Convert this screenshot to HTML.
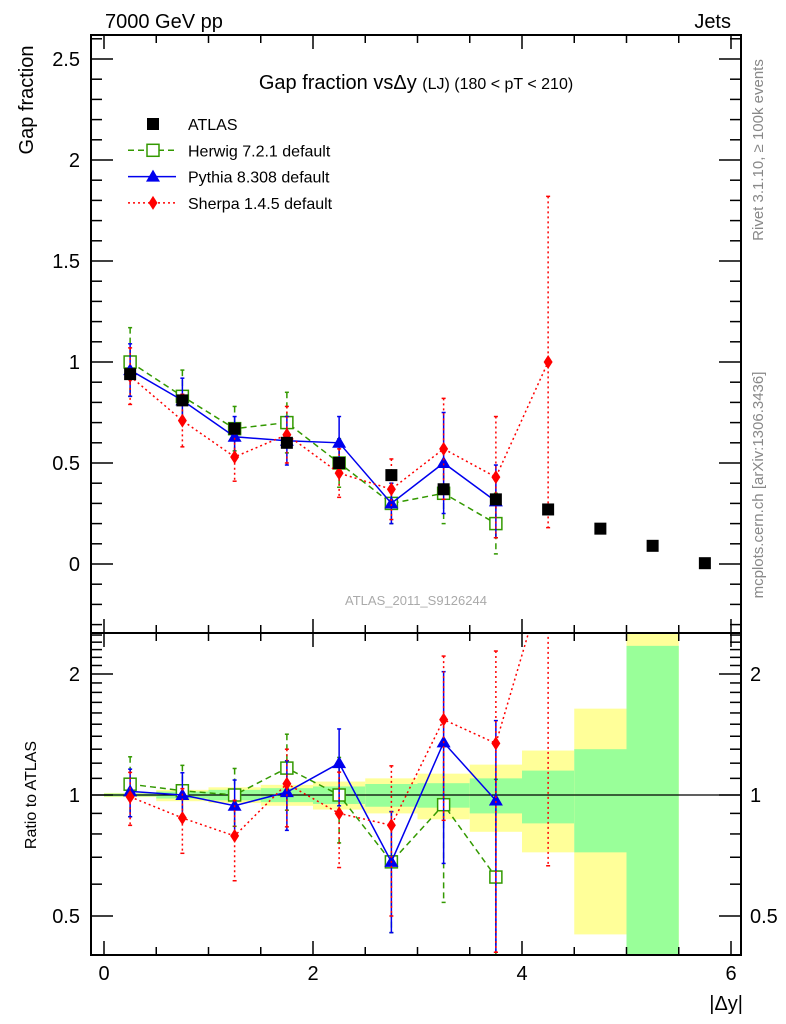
<!DOCTYPE html>
<html><head><meta charset="utf-8"><style>
html,body{margin:0;padding:0;background:#fff;width:786px;height:1024px;overflow:hidden;}
svg{display:block;font-family:"Liberation Sans",sans-serif;}
</style></head><body>
<svg id="c" width="786" height="1024" viewBox="0 0 786 1024" xmlns="http://www.w3.org/2000/svg">
<defs>
<clipPath id="clipMain"><rect x="91" y="35" width="650" height="598"/></clipPath>
<clipPath id="clipRatio"><rect x="91" y="633" width="650" height="322"/></clipPath>
</defs>
<g id="bands" clip-path="url(#clipRatio)"></g>
<g id="grid"></g>
<g id="series"></g>
<rect x="91" y="35" width="650" height="598" fill="none" stroke="#000" stroke-width="2"/>
<rect x="91" y="633" width="650" height="322" fill="none" stroke="#000" stroke-width="2"/>
<text x="105" y="28" font-size="20">7000 GeV pp</text>
<text x="731" y="28" font-size="20" text-anchor="end">Jets</text>
<text transform="translate(33,100) rotate(-90)" font-size="20" text-anchor="middle">Gap fraction</text>
<text x="416" y="89" font-size="20" text-anchor="middle">Gap fraction vs<tspan>Δy</tspan> <tspan font-size="16">(LJ) (180 &lt; pT &lt; 210)</tspan></text>
<text transform="translate(763,150) rotate(-90)" font-size="15" fill="#888" text-anchor="middle">Rivet 3.1.10, ≥ 100k events</text>
<text transform="translate(763,485) rotate(-90)" font-size="15" fill="#888" text-anchor="middle">mcplots.cern.ch [arXiv:1306.3436]</text>
<text x="416" y="605" font-size="13" fill="#aaa" text-anchor="middle">ATLAS_2011_S9126244</text>
<text transform="translate(36,795) rotate(-90)" font-size="16" text-anchor="middle">Ratio to ATLAS</text>
<text x="743" y="1010" font-size="20" text-anchor="end">|Δy|</text>
<g id="legend"></g>
</svg>
<script>
const xCenters=[0.25,0.75,1.25,1.75,2.25,2.75,3.25,3.75,4.25,4.75,5.25,5.75];
const atlas=[0.94,0.81,0.67,0.60,0.50,0.44,0.37,0.32,0.27,0.175,0.09,0.004];
const relTotUp=[0.012,0.03,0.045,0.06,0.08,0.10,0.13,0.19,0.29,0.64,1.8,0];
const relTotDn=[0.012,0.035,0.045,0.06,0.08,0.10,0.13,0.19,0.28,0.55,1.0,0];
const relStatUp=[0.008,0.02,0.03,0.04,0.05,0.065,0.07,0.10,0.15,0.30,1.35,0];
const relStatDn=[0.008,0.02,0.03,0.04,0.05,0.065,0.07,0.10,0.15,0.28,1.0,0];
const herwig=[1.00,0.83,0.67,0.70,0.50,0.30,0.35,0.20];
const herwigErr=[0.17,0.13,0.11,0.15,0.12,0.10,0.15,0.15];
const pythia=[0.96,0.81,0.63,0.61,0.60,0.30,0.50,0.31];
const pythiaErr=[0.13,0.11,0.10,0.12,0.13,0.10,0.25,0.18];
const sherpa=[0.93,0.71,0.53,0.64,0.45,0.37,0.57,0.43,1.00];
const sherpaErr=[0.14,0.13,0.12,0.14,0.12,0.15,0.25,0.30,0.82];
const xTicks=[0,2,4,6];
const yTicks=[0,0.5,1,1.5,2,2.5];
const rTicks=[0.5,1,2];

const NS='http://www.w3.org/2000/svg';
const X=v=>104+v*104.5;
const Y=v=>564-v*202;
const R=v=>795-Math.log2(v)*121;
function mk(tag,attrs,parent){const e=document.createElementNS(NS,tag);for(const k in attrs)e.setAttribute(k,attrs[k]);parent.appendChild(e);return e;}
const bands=document.getElementById('bands'),grid=document.getElementById('grid'),ser=document.getElementById('series'),leg=document.getElementById('legend');

xCenters.forEach((c,i)=>{
  if(relTotUp[i]<=0)return;
  const x0=X(c-0.25),x1=X(c+0.25);
  const yt=Math.max(633,R(1+relTotUp[i])),yb=relTotDn[i]>=1?955:Math.min(955,R(1-relTotDn[i]));
  let r=mk('rect',{x:x0,y:yt,width:x1-x0,height:yb-yt,fill:'#ffff99'},bands);
  
  
  const gt=Math.max(633,R(1+relStatUp[i])),gb=relStatDn[i]>=1?955:Math.min(955,R(1-relStatDn[i]));
  r=mk('rect',{x:x0,y:gt,width:x1-x0,height:gb-gt,fill:'#99ff99'},bands);
  
  
});
mk('line',{x1:91,x2:741,y1:R(1),y2:R(1),stroke:'#000','stroke-width':1.2},grid);

for(let v=0;v<=6.01;v+=0.5){
  const major=Math.abs(v-Math.round(v/2)*2)<1e-6;
  const L=major?14:8;
  [[633,-1],[955,-1],[35,1],[633,1]].forEach(([y,d])=>mk('line',{x1:X(v),x2:X(v),y1:y,y2:y+d*L,stroke:'#000','stroke-width':1.5},grid));
}
xTicks.forEach(v=>{const t=mk('text',{x:X(v),y:980,'font-size':20,'text-anchor':'middle'},grid);t.textContent=v;});
for(let k=-3;k<=26;k++){const v=k/10;const y=Y(v);if(y<35||y>633)continue;const major=k%5===0;const L=major?22:11;
  mk('line',{x1:91,x2:91+L,y1:y,y2:y,stroke:'#000','stroke-width':1.5},grid);
  mk('line',{x1:741,x2:741-L,y1:y,y2:y,stroke:'#000','stroke-width':1.5},grid);}
yTicks.forEach(v=>{const t=mk('text',{x:80,y:Y(v)+7,'font-size':20,'text-anchor':'end'},grid);t.textContent=v;});
for(let k=4;k<=25;k++){const v=k/10;const y=R(v);if(y<633||y>955)continue;const major=(k===5||k===10||k===20);const L=major?22:11;
  mk('line',{x1:91,x2:91+L,y1:y,y2:y,stroke:'#000','stroke-width':1.5},grid);
  mk('line',{x1:741,x2:741-L,y1:y,y2:y,stroke:'#000','stroke-width':1.5},grid);}
rTicks.forEach(v=>{[[80,'end'],[750,'start']].forEach(([x,a])=>{const t=mk('text',{x:x,y:R(v)+7,'font-size':20,'text-anchor':a},grid);t.textContent=v;});});

function marker(type,x,y,color,g){
  let m;
  if(type==='sq'){m=mk('rect',{x:x-6,y:y-6,width:12,height:12,fill:'#fff',stroke:color,'stroke-width':1.5},g);}
  else if(type==='tri'){m=mk('polygon',{points:`${x},${y-7} ${x-7},${y+5} ${x+7},${y+5}`,fill:color},g);}
  else if(type==='dia'){m=mk('polygon',{points:`${x},${y-7} ${x-4.5},${y} ${x},${y+7} ${x+4.5},${y}`,fill:color},g);}
  else {m=mk('rect',{x:x-6,y:y-6,width:12,height:12,fill:'#000'},g);}
  return m;
}
const defs=[
  {name:'herwig',vals:herwig,err:herwigErr,color:'#339900',dash:'6,4',mk:'sq',label:'Herwig 7.2.1 default'},
  {name:'pythia',vals:pythia,err:pythiaErr,color:'#0000ee',dash:'',mk:'tri',label:'Pythia 8.308 default'},
  {name:'sherpa',vals:sherpa,err:sherpaErr,color:'#ff0000',dash:'2,3',mk:'dia',label:'Sherpa 1.4.5 default'}
];
defs.forEach(s=>{
  ['main','ratio'].forEach(panel=>{
    const g=mk('g',{'clip-path':panel==='main'?'url(#clipMain)':'url(#clipRatio)'},ser);
    
    
    const yv=i=>panel==='main'?Y(s.vals[i]):R(s.vals[i]/atlas[i]);
    const ye=(i,d)=>panel==='main'?Y(s.vals[i]+d*s.err[i]):R(Math.max(0.3,(s.vals[i]+d*s.err[i])/atlas[i]));
    const pts=s.vals.map((v,i)=>X(xCenters[i])+','+yv(i)).join(' ');
    const pl=mk('polyline',{points:pts,fill:'none',stroke:s.color,'stroke-width':1.5,'stroke-dasharray':s.dash},g);
    
    
    s.vals.forEach((v,i)=>{
      const x=X(xCenters[i]);
      mk('line',{x1:x,x2:x,y1:ye(i,1),y2:ye(i,-1),stroke:s.color,'stroke-width':1.5,'stroke-dasharray':s.dash},g);
      mk('line',{x1:x-2,x2:x+2,y1:ye(i,1),y2:ye(i,1),stroke:s.color,'stroke-width':1.5},g);
      mk('line',{x1:x-2,x2:x+2,y1:ye(i,-1),y2:ye(i,-1),stroke:s.color,'stroke-width':1.5},g);
      const m=marker(s.mk,x,yv(i),s.color,g);
      
      
    });
  });
});
atlas.forEach((v,i)=>{
  const m=marker('data',X(xCenters[i]),Y(v),'#000',ser);
  
  
});
const rows=[{label:'ATLAS',mk:'data',color:'#000',dash:null}].concat(defs);
rows.forEach((r,k)=>{
  const y=124+k*26.3;
  const g=mk('g',{},leg);
  
  
  if(r.dash!==null&&r.dash!==undefined){mk('line',{x1:128,x2:176,y1:y,y2:y,stroke:r.color,'stroke-width':1.5,'stroke-dasharray':r.dash},g);}
  marker(r.mk,153,y,r.color,g);
  const t=mk('text',{x:188,y:y+6,'font-size':16},g);t.textContent=r.label;
});
</script>
</body></html>
